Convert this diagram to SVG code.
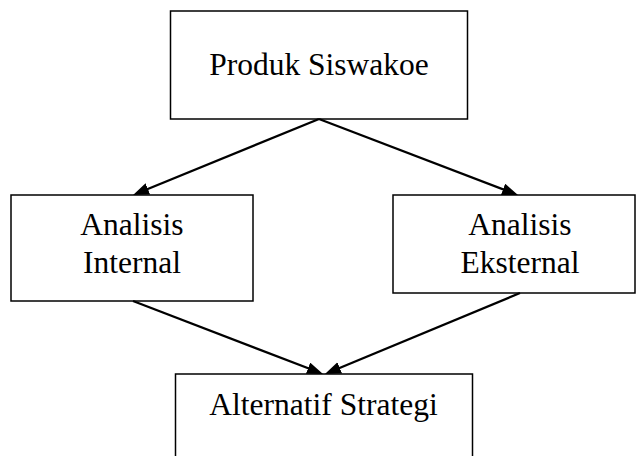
<svg xmlns="http://www.w3.org/2000/svg" width="637" height="456" viewBox="0 0 637 456">
<style>
.box{fill:#fff;stroke:#000;stroke-width:1.5}
.t{font-family:"Liberation Serif","Times New Roman",serif;font-size:31.5px;fill:#000;text-anchor:middle}
.c{fill:none;stroke:#000;stroke-width:2.3}
</style>
<defs>
<marker id="ah" markerUnits="userSpaceOnUse" markerWidth="18" markerHeight="14" refX="10" refY="6" orient="auto">
<path d="M0,0 L16,6 L0,12 z" fill="#000"/>
</marker>
</defs>
<rect width="637" height="456" fill="#fff"/>
<g id="n1">
<rect class="box" x="170.5" y="11" width="297" height="108"/>
<text class="t" x="319" y="75">Produk Siswakoe</text>
</g>
<g id="n2">
<rect class="box" x="11" y="195" width="242" height="106"/>
<text class="t" x="132" y="235">Analisis</text>
<text class="t" x="132" y="273">Internal</text>
</g>
<g id="n3">
<rect class="box" x="393" y="195" width="242" height="98"/>
<text class="t" x="520" y="235">Analisis</text>
<text class="t" x="520" y="273">Eksternal</text>
</g>
<g id="n4">
<rect class="box" x="175.5" y="374" width="297" height="100"/>
<text class="t" x="323.5" y="415">Alternatif Strategi</text>
</g>
<g id="connectors">
<path class="c" d="M319,119 L138.6,192.7" marker-end="url(#ah)"/>
<path class="c" d="M319,119 L512.4,192.9" marker-end="url(#ah)"/>
<path class="c" d="M133,301 L317.4,371.8" marker-end="url(#ah)"/>
<path class="c" d="M520,293 L330.5,371.7" marker-end="url(#ah)"/>
</g>
</svg>
